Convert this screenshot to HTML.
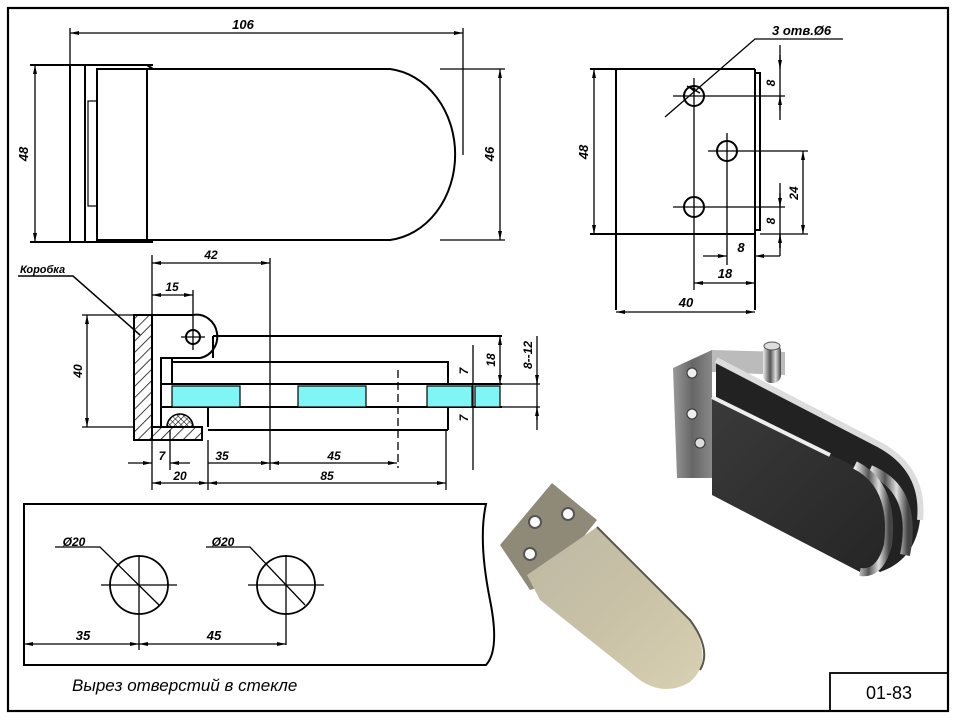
<!DOCTYPE html>
<html><head><meta charset="utf-8">
<style>
html,body{margin:0;padding:0;background:#fff;}
svg{display:block;}
text{font-family:"Liberation Sans",sans-serif;font-style:italic;fill:#000;}
</style></head><body>
<svg width="957" height="721" viewBox="0 0 957 721" xmlns="http://www.w3.org/2000/svg">
<defs>
<pattern id="hatch" width="8" height="8" patternUnits="userSpaceOnUse" patternTransform="rotate(45)">
<line x1="0" y1="0" x2="0" y2="8" stroke="#000" stroke-width="1.5"/></pattern>
<pattern id="cross" width="4" height="4" patternUnits="userSpaceOnUse" patternTransform="rotate(45)">
<path d="M0 0V4M0 0H4" stroke="#000" stroke-width="1.1"/></pattern>
<linearGradient id="dark" x1="0" y1="0" x2="1" y2="1"><stop offset="0" stop-color="#3a3a3a"/><stop offset="1" stop-color="#252525"/></linearGradient>
<linearGradient id="chrome" x1="0" y1="0" x2="1" y2="0"><stop offset="0" stop-color="#eee"/><stop offset=".4" stop-color="#555"/><stop offset=".7" stop-color="#ddd"/><stop offset="1" stop-color="#444"/></linearGradient>
<linearGradient id="plate" x1="0" y1="0" x2="1" y2="0"><stop offset="0" stop-color="#999"/><stop offset=".5" stop-color="#666"/><stop offset="1" stop-color="#888"/></linearGradient>
<linearGradient id="satin" x1="0" y1="0" x2="1" y2="1"><stop offset="0" stop-color="#bdb8a5"/><stop offset=".5" stop-color="#c9c1a6"/><stop offset="1" stop-color="#d8d0b2"/></linearGradient>
<marker id="a" markerWidth="9" markerHeight="6" refX="9" refY="3" orient="auto-start-reverse" markerUnits="userSpaceOnUse"><path d="M0 1L9 3L0 5Z" fill="#000"/></marker>
</defs>
<g fill="none" stroke="#000">
<!-- frame -->
<rect x="8" y="8" width="940" height="703" stroke-width="2.2"/>
<rect x="830" y="673" width="118" height="38" stroke-width="1.8"/>

<!-- TOP VIEW -->
<g stroke-width="2">
<line x1="30" y1="65" x2="153" y2="65"/>
<line x1="30" y1="242" x2="153" y2="242"/>
<line x1="70" y1="65" x2="70" y2="242"/>
<line x1="85" y1="65" x2="85" y2="242"/>
<rect x="97" y="69" width="50" height="171"/>
<rect x="88" y="101" width="9" height="105" stroke-width="1.2"/>
<path d="M147 69H390A73 86 0 0 1 390 240H147"/>
<line x1="147" y1="65" x2="153" y2="69"/><line x1="147" y1="242" x2="153" y2="240"/>
<line x1="440" y1="69" x2="505" y2="69" stroke-width="1.3"/>
<line x1="440" y1="240" x2="505" y2="240" stroke-width="1.3"/>
</g>
<g stroke-width="1.3">
<line x1="70" y1="28" x2="70" y2="65"/><line x1="463" y1="28" x2="463" y2="155"/>
<line x1="70" y1="33" x2="463" y2="33" marker-start="url(#a)" marker-end="url(#a)"/>
<line x1="35" y1="65" x2="35" y2="242" marker-start="url(#a)" marker-end="url(#a)"/>
<line x1="500" y1="69" x2="500" y2="240" marker-start="url(#a)" marker-end="url(#a)"/>
</g>

<!-- RIGHT VIEW -->
<g stroke-width="2">
<line x1="590" y1="69" x2="755" y2="69"/>
<line x1="590" y1="234" x2="755" y2="234"/>
<line x1="616" y1="69" x2="616" y2="310"/>
<line x1="755" y1="69" x2="755" y2="310"/>
<path d="M755 73H760V230H755"/>
<circle cx="694" cy="96" r="10"/><circle cx="727" cy="151" r="10"/><circle cx="694" cy="207" r="10"/>
</g>
<g stroke-width="1.3">
<line x1="694" y1="78" x2="694" y2="290"/><line x1="673" y1="96" x2="785" y2="96"/>
<line x1="727" y1="133" x2="727" y2="265"/><line x1="708" y1="151" x2="808" y2="151"/>
<line x1="673" y1="207" x2="785" y2="207"/>
<line x1="760" y1="234" x2="808" y2="234"/>
<line x1="594" y1="69" x2="594" y2="234" marker-start="url(#a)" marker-end="url(#a)"/>
<line x1="780" y1="45" x2="780" y2="120"/>
<line x1="780" y1="55" x2="780" y2="69" marker-end="url(#a)"/><line x1="780" y1="110" x2="780" y2="96" marker-end="url(#a)"/>
<line x1="780" y1="183" x2="780" y2="248"/>
<line x1="780" y1="193" x2="780" y2="207" marker-end="url(#a)"/><line x1="780" y1="248" x2="780" y2="234" marker-end="url(#a)"/>
<line x1="803" y1="151" x2="803" y2="234" marker-start="url(#a)" marker-end="url(#a)"/>
<line x1="703" y1="256" x2="727" y2="256" marker-end="url(#a)"/><line x1="780" y1="256" x2="755" y2="256" marker-end="url(#a)"/><line x1="780" y1="256" x2="780" y2="235"/>
<line x1="694" y1="283" x2="755" y2="283" marker-start="url(#a)" marker-end="url(#a)"/>
<line x1="616" y1="312" x2="755" y2="312" marker-start="url(#a)" marker-end="url(#a)"/>
<path d="M843 39H755L665 117"/>
<line x1="700" y1="93" x2="687" y2="86" marker-end="url(#a)"/>
</g>

<!-- SECTION -->
<rect x="134" y="315" width="18" height="125" fill="url(#hatch)" stroke-width="2"/>
<rect x="152" y="427" width="50" height="13" fill="url(#hatch)" stroke-width="2"/>
<path d="M167 427A13 13 0 0 1 193 427Z" fill="url(#cross)" stroke-width="1.6"/>
<g stroke-width="2">
<path d="M152 315H193A20 21 0 0 1 200 358H161V427"/>
<path d="M213 336H502"/>
<path d="M213 336V358"/>
<path d="M172 358V384M172 362H448V384"/>
<path d="M208 427V407H448V430"/>
<path d="M208 430H448"/>
<path d="M160 384H502M160 407H502"/>
</g>
<g fill="#7ff5f5" stroke="#000" stroke-width="1.2">
<rect x="172" y="386" width="68" height="21"/>
<rect x="298" y="386" width="68" height="21"/>
<rect x="427" y="386" width="45" height="21"/>
<rect x="475" y="386" width="25" height="21"/>
</g>
<g stroke-width="1.3">
<circle cx="193" cy="337" r="7" stroke-width="2"/>
<line x1="181" y1="337" x2="205" y2="337"/><line x1="193" y1="290" x2="193" y2="350"/>
<line x1="152" y1="255" x2="152" y2="490"/><line x1="270" y1="258" x2="270" y2="470"/>
<line x1="398" y1="370" x2="398" y2="468" stroke-dasharray="8 4"/>
<line x1="446" y1="430" x2="446" y2="490"/>
<line x1="208" y1="440" x2="208" y2="490"/>
<line x1="170" y1="430" x2="170" y2="470"/>
<line x1="152" y1="263" x2="270" y2="263" marker-start="url(#a)" marker-end="url(#a)"/>
<line x1="152" y1="295" x2="193" y2="295" marker-start="url(#a)" marker-end="url(#a)"/>
<line x1="82" y1="315" x2="134" y2="315"/><line x1="82" y1="427" x2="134" y2="427"/>
<line x1="87" y1="315" x2="87" y2="427" marker-start="url(#a)" marker-end="url(#a)"/>
<line x1="128" y1="463" x2="152" y2="463" marker-end="url(#a)"/><line x1="190" y1="463" x2="170" y2="463" marker-end="url(#a)"/>
<line x1="208" y1="463" x2="270" y2="463" marker-end="url(#a)"/>
<line x1="270" y1="463" x2="397" y2="463" marker-start="url(#a)" marker-end="url(#a)"/>
<line x1="152" y1="483" x2="208" y2="483" marker-start="url(#a)" marker-end="url(#a)"/>
<line x1="208" y1="483" x2="446" y2="483" marker-start="url(#a)" marker-end="url(#a)"/>
<line x1="473" y1="345" x2="473" y2="470"/>
<line x1="500" y1="336" x2="500" y2="384" marker-start="url(#a)" marker-end="url(#a)"/>
<line x1="537" y1="336" x2="537" y2="430"/>
<line x1="537" y1="375" x2="537" y2="384" marker-end="url(#a)"/><line x1="537" y1="420" x2="537" y2="407" marker-end="url(#a)"/>
<line x1="502" y1="384" x2="540" y2="384"/><line x1="502" y1="407" x2="540" y2="407"/>
<path d="M18 276H73L140 335" stroke-width="1.5"/>
</g>

<!-- CUTOUT BOX -->
<path d="M24 504H486Q478 540 490 600Q500 650 486 665H24Z" stroke-width="2"/>
<g stroke-width="1.8"><circle cx="139" cy="585" r="29"/><circle cx="286" cy="585" r="29"/></g>
<g stroke-width="1.3">
<line x1="101" y1="585" x2="177" y2="585"/><line x1="139" y1="555" x2="139" y2="650"/>
<line x1="248" y1="585" x2="324" y2="585"/><line x1="286" y1="555" x2="286" y2="645"/>
<path d="M55 547H100L159 605"/><path d="M206 547H250L305 605"/>
<line x1="24" y1="644" x2="139" y2="644" marker-start="url(#a)" marker-end="url(#a)"/>
<line x1="139" y1="644" x2="286" y2="644" marker-start="url(#a)" marker-end="url(#a)"/>
</g>
</g>

<!-- PHOTO dark hinge -->
<polygon points="673,368 712,350 712,478 677,478" fill="url(#plate)"/>
<polygon points="712,350 785,352 785,375 712,372" fill="#bbb"/>
<rect x="763" y="343" width="18" height="40" rx="8" fill="url(#chrome)"/>
<ellipse cx="772" cy="346" rx="8" ry="4" fill="#ddd" stroke="#555"/>
<path d="M716 360L880 445Q925 470 920 520Q915 560 880 572L716 470Z" fill="#222"/>
<path d="M716 360L880 445Q925 470 920 520" fill="none" stroke="#ddd" stroke-width="6"/>
<path d="M870 470Q918 490 905 555" fill="none" stroke="url(#chrome)" stroke-width="10"/>
<path d="M712 397L830 455Q895 480 890 530Q885 575 860 572L712 495Z" fill="url(#dark)"/>
<path d="M712 397L830 455" stroke="#eee" stroke-width="4"/>
<path d="M855 465Q895 485 888 545Q880 575 860 572" fill="none" stroke="url(#chrome)" stroke-width="8"/>
<circle cx="692" cy="373" r="5" fill="#eee" stroke="#333"/><circle cx="692" cy="414" r="5" fill="#eee" stroke="#333"/><circle cx="700" cy="443" r="5" fill="#ddd" stroke="#333"/>

<!-- PHOTO satin hinge -->
<polygon points="500,545 552,483 597,520 545,585 530,590" fill="#8f8a78"/>
<path d="M527,575 L597,527 L690,620 Q715,660 690,682 Q660,700 630,672 L540,600 Z" fill="url(#satin)"/>
<path d="M597,527 L690,620 Q712,650 700,670" fill="none" stroke="#5b5647" stroke-width="2"/>
<circle cx="535" cy="522" r="6" fill="#fff" stroke="#555" stroke-width="2"/>
<circle cx="568" cy="514" r="6" fill="#fff" stroke="#555" stroke-width="2"/>
<circle cx="530" cy="554" r="6" fill="#fff" stroke="#555" stroke-width="2"/>

<!-- TEXT -->
<g font-weight="bold">
<text x="243" y="29" font-size="13" text-anchor="middle">106</text>
<text x="28" y="154" font-size="13" text-anchor="middle" transform="rotate(-90 28 154)">48</text>
<text x="494" y="154" font-size="13" text-anchor="middle" transform="rotate(-90 494 154)">46</text>
<text x="772" y="35" font-size="13">3 отв.Ø6</text>
<text x="588" y="152" font-size="13" text-anchor="middle" transform="rotate(-90 588 152)">48</text>
<text x="775" y="83" font-size="12" text-anchor="middle" transform="rotate(-90 775 83)">8</text>
<text x="775" y="221" font-size="12" text-anchor="middle" transform="rotate(-90 775 221)">8</text>
<text x="798" y="193" font-size="12" text-anchor="middle" transform="rotate(-90 798 193)">24</text>
<text x="741" y="252" font-size="13" text-anchor="middle">8</text>
<text x="725" y="278" font-size="13" text-anchor="middle">18</text>
<text x="686" y="307" font-size="13" text-anchor="middle">40</text>
<text x="20" y="273" font-size="11">Коробка</text>
<text x="211" y="259" font-size="12" text-anchor="middle">42</text>
<text x="172" y="291" font-size="12" text-anchor="middle">15</text>
<text x="82" y="371" font-size="12" text-anchor="middle" transform="rotate(-90 82 371)">40</text>
<text x="162" y="460" font-size="12" text-anchor="middle">7</text>
<text x="222" y="460" font-size="12" text-anchor="middle">35</text>
<text x="334" y="460" font-size="12" text-anchor="middle">45</text>
<text x="180" y="480" font-size="12" text-anchor="middle">20</text>
<text x="327" y="480" font-size="12" text-anchor="middle">85</text>
<text x="468" y="371" font-size="12" text-anchor="middle" transform="rotate(-90 468 371)">7</text>
<text x="468" y="418" font-size="12" text-anchor="middle" transform="rotate(-90 468 418)">7</text>
<text x="495" y="360" font-size="12" text-anchor="middle" transform="rotate(-90 495 360)">18</text>
<text x="532" y="355" font-size="12" text-anchor="middle" transform="rotate(-90 532 355)">8--12</text>
<text x="74" y="546" font-size="12" text-anchor="middle">Ø20</text>
<text x="223" y="546" font-size="12" text-anchor="middle">Ø20</text>
<text x="83" y="640" font-size="13" text-anchor="middle">35</text>
<text x="214" y="640" font-size="13" text-anchor="middle">45</text>
</g>
<text x="72" y="691" font-size="17">Вырез отверстий в стекле</text>
<text x="889" y="699" font-size="18" text-anchor="middle" style="font-style:normal">01-83</text>
</svg>
</body></html>
